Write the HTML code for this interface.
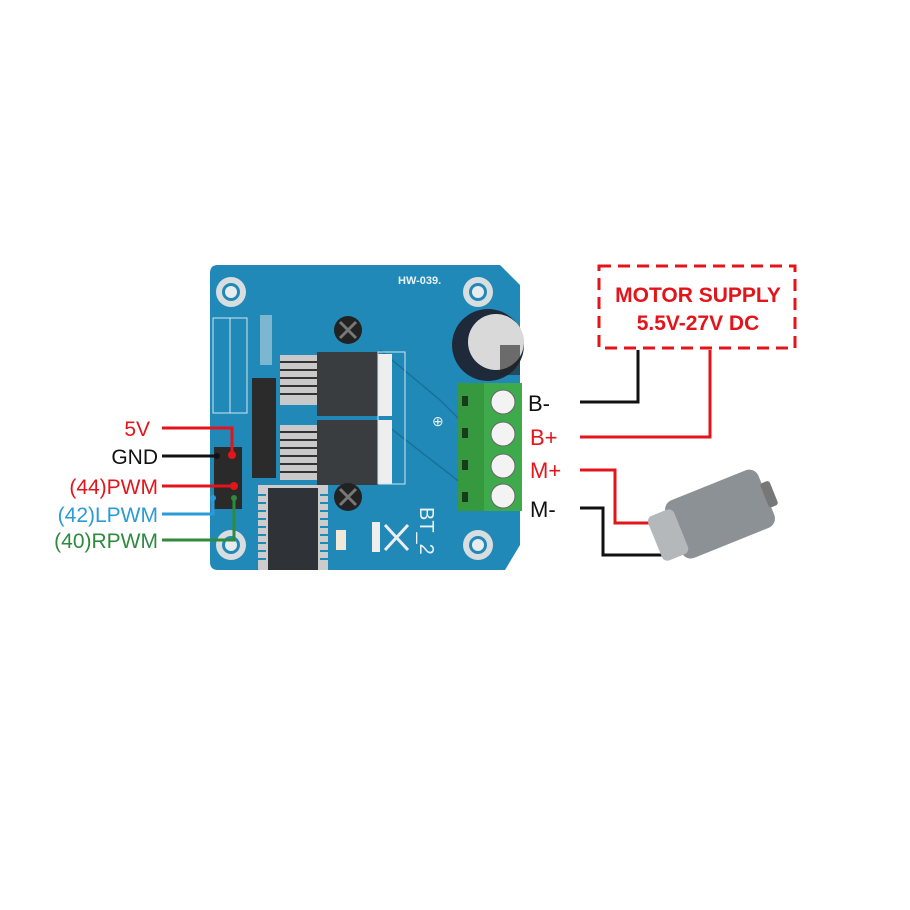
<!DOCTYPE html><html><head><style>body{margin:0;background:#fff}svg{display:block}</style></head><body>
<svg width="910" height="910" viewBox="0 0 910 910" xmlns="http://www.w3.org/2000/svg" font-family="Liberation Sans, sans-serif">
<rect width="910" height="910" fill="#fff"/>
<path d="M218 265 L500 265 L520 285 L520 545 L505 570 L218 570 Q210 570 210 562 L210 273 Q210 265 218 265Z" fill="#2189b8"/>
<path d="M380 350 L440 400 L520 480 M380 420 L470 490" stroke="#15729a" stroke-width="1.5" fill="none"/>
<g fill="#d8dde0"><circle cx="231" cy="292" r="15"/><circle cx="478" cy="292" r="15"/><circle cx="231" cy="545" r="15"/><circle cx="478" cy="545" r="15"/></g>
<g fill="#2189b8"><circle cx="231" cy="292" r="9"/><circle cx="478" cy="292" r="9"/><circle cx="231" cy="545" r="9"/><circle cx="478" cy="545" r="9"/></g>
<g fill="#e8ecee"><circle cx="231" cy="292" r="6"/><circle cx="478" cy="292" r="6"/><circle cx="231" cy="545" r="6"/><circle cx="478" cy="545" r="6"/></g>
<text x="398" y="284" font-size="11" font-weight="bold" fill="#e8f2f8">HW-039.</text>
<rect x="213" y="318" width="34" height="95" fill="none" stroke="#d0e6f0" stroke-width="1"/>
<line x1="230" y1="318" x2="230" y2="413" stroke="#d0e6f0"/>
<g fill="#d8e3ea"><rect x="260" y="315" width="12" height="50" opacity="0.5"/></g>
<g fill="#2b2b2b"><rect x="252" y="378" width="24" height="100"/></g>
<g fill="#c9c9c9"><rect x="280" y="355" width="38" height="50"/><rect x="280" y="425" width="38" height="55"/></g>
<g stroke="#333" stroke-width="2"><path d="M280 362H318M280 370H318M280 378H318M280 386H318M280 394H318M280 432H318M280 440H318M280 448H318M280 456H318M280 464H318M280 472H318"/></g>
<rect x="317" y="352" width="62" height="64" fill="#3a3d40"/>
<rect x="317" y="420" width="62" height="65" fill="#3a3d40"/>
<rect x="378" y="354" width="14" height="62" fill="#eee"/>
<rect x="378" y="420" width="14" height="64" fill="#eee"/>
<rect x="378" y="352" width="27" height="132" fill="none" stroke="#d0e6f0"/>
<circle cx="348" cy="330" r="14" fill="#222"/><circle cx="348" cy="497" r="14" fill="#222"/>
<path d="M340 322L356 338M356 322L340 338M340 489L356 505M356 489L340 505" stroke="#777" stroke-width="3"/>
<rect x="258" y="485" width="70" height="85" fill="#ccc"/>
<g stroke="#2189b8" stroke-width="2"><path d="M258 495H266M258 503H266M258 511H266M258 519H266M258 527H266M258 535H266M258 543H266M258 551H266M258 559H266M320 495H328M320 503H328M320 511H328M320 519H328M320 527H328M320 535H328M320 543H328M320 551H328M320 559H328"/></g>
<rect x="268" y="488" width="50" height="82" fill="#2f3236"/>
<rect x="214" y="447" width="28" height="62" fill="#2a2a2a"/>
<text x="387" y="500" font-size="20" fill="#e8f2f8" transform="rotate(90 400 520)">BT_2</text>
<rect x="372" y="522" width="8" height="30" fill="#eee"/>
<path d="M385 525L408 550M408 525L385 550" stroke="#eee" stroke-width="3"/>
<rect x="336" y="530" width="10" height="20" fill="#f0e8d8"/>
<text x="432" y="426" font-size="14" fill="#e8f2f8">⊕</text>
<circle cx="488" cy="345" r="36" fill="#1e2a3a"/>
<circle cx="496" cy="342" r="28" fill="#d9d9d9"/>
<rect x="500" y="345" width="20" height="30" fill="#222" opacity="0.6"/>
<rect x="458" y="383" width="64" height="128" fill="#3faa4b"/>
<rect x="458" y="383" width="26" height="128" fill="#37993f"/>
<g fill="#1a3a1e"><rect x="462" y="396" width="6" height="10"/><rect x="462" y="428" width="6" height="10"/><rect x="462" y="460" width="6" height="10"/><rect x="462" y="492" width="6" height="10"/></g>
<g fill="#f3f3f3" stroke="#666"><circle cx="503" cy="402" r="12"/><circle cx="503" cy="434" r="12"/><circle cx="503" cy="466" r="12"/><circle cx="503" cy="496" r="12"/></g>
<g fill="none" stroke-width="3">
<path d="M162 428H232V452" stroke="#e4141b"/>
<path d="M162 456H217" stroke="#111"/>
<path d="M162 486H234" stroke="#e4141b"/>
<path d="M162 514H213V500" stroke="#2a9bd6"/>
<path d="M162 540H234V500" stroke="#2f8a3e"/>
</g>
<circle cx="232" cy="455" r="4" fill="#e4141b"/><circle cx="234" cy="486" r="4" fill="#e4141b"/><circle cx="217" cy="456" r="3" fill="#111"/><circle cx="213" cy="498" r="3" fill="#2a9bd6"/><circle cx="234" cy="498" r="3" fill="#2f8a3e"/>
<g font-size="21" text-anchor="end">
<text x="150" y="436" fill="#e4141b">5V</text>
<text x="158" y="464" fill="#111">GND</text>
<text x="158" y="494" fill="#e4141b">(44)PWM</text>
<text x="158" y="522" fill="#2a9bd6">(42)LPWM</text>
<text x="158" y="548" fill="#2f8a3e">(40)RPWM</text>
</g>
<g font-size="22">
<text x="528" y="411" fill="#111">B-</text>
<text x="530" y="445" fill="#e4141b">B+</text>
<text x="530" y="478" fill="#e4141b">M+</text>
<text x="530" y="517" fill="#111">M-</text>
</g>
<rect x="599" y="266" width="196" height="82" fill="none" stroke="#e4141b" stroke-width="3" stroke-dasharray="12 7"/>
<g font-size="21" font-weight="bold" fill="#e4141b" text-anchor="middle">
<text x="698" y="302">MOTOR SUPPLY</text>
<text x="698" y="330">5.5V-27V DC</text>
</g>
<g fill="none" stroke-width="3">
<path d="M580 402H638V350" stroke="#111"/>
<path d="M580 437H710V350" stroke="#e4141b"/>
<path d="M580 470H615V523H658" stroke="#e4141b"/>
<path d="M580 508H603V555H670" stroke="#111"/>
</g>
<g transform="rotate(-22 715 515)">
<rect x="670" y="485" width="100" height="62" rx="10" fill="#8c9196"/>
<rect x="650" y="492" width="28" height="48" rx="6" fill="#b5b8bb"/>
<rect x="768" y="503" width="10" height="26" rx="3" fill="#777"/>
</g>
</svg>
</body></html>
